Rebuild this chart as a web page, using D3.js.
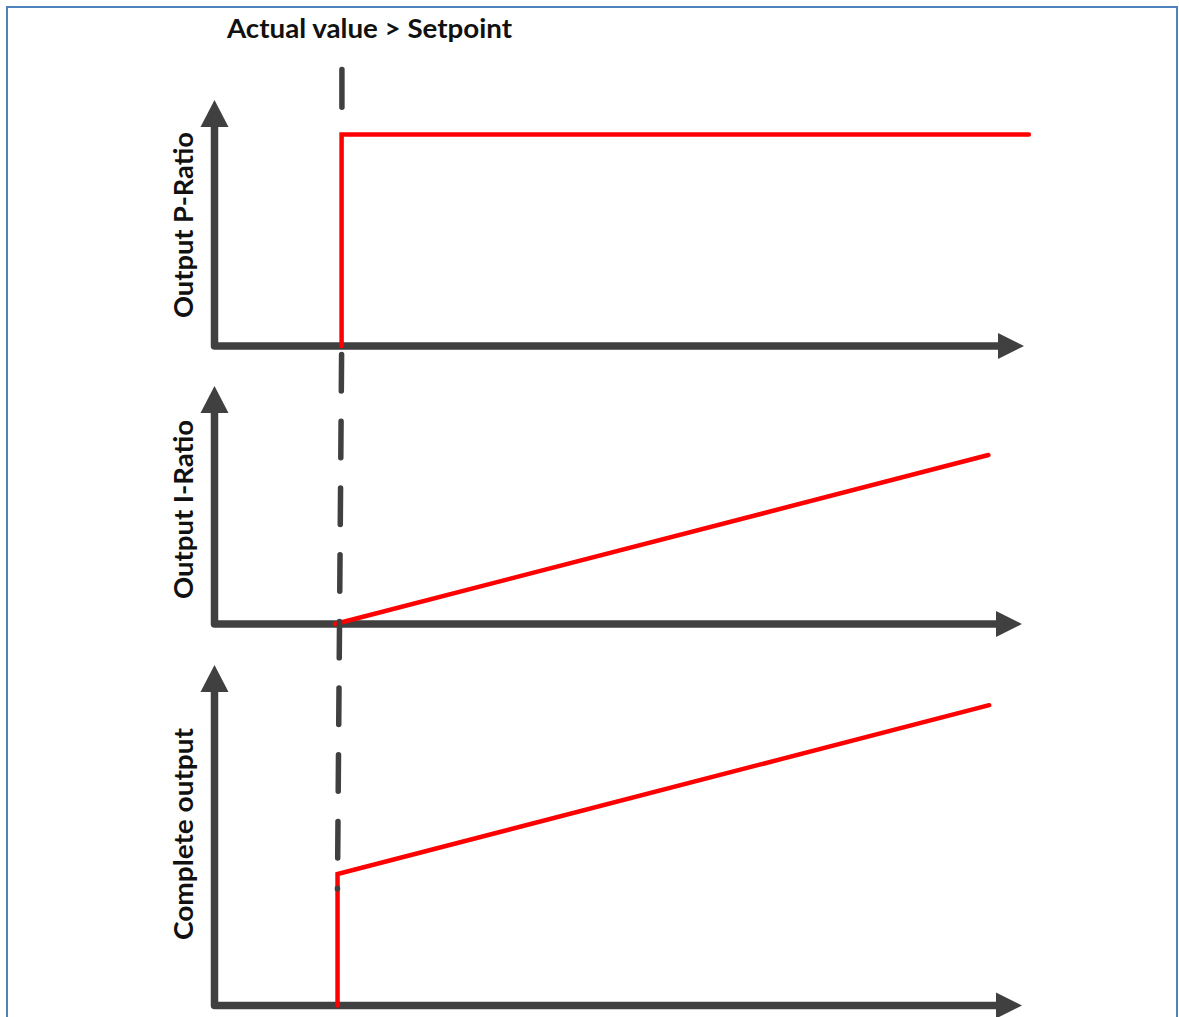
<!DOCTYPE html>
<html>
<head>
<meta charset="utf-8">
<script src="https://cdn.jsdelivr.net/npm/d3@7"></script>
<style>
  html, body { margin: 0; padding: 0; background: #fff; }
  svg { display: block; }
</style>
</head>
<body>
<svg id="chart" width="1179" height="1017"></svg>
<script>
// ---------- data ----------
const title = "Actual value > Setpoint";
const panelLabels = ["Output P-Ratio", "Output I-Ratio", "Complete output"];
const timeDomain = [0, 100];
const valueDomain = [0, 100];
// [time, value] points of each red trace
const pRatio = [[15.7, 0], [15.7, 86], [100.6, 86]];
const iRatio = [[14.9, 0], [95.6, 71]];
const completeOutput = [[15.2, 0], [15.2, 38.6], [95.7, 88.2]];
const traces = [pRatio, iRatio, completeOutput];
// setpoint crossing marker: [panel, time, value]
const markerTopDash = [[0, 15.74, 112.4], [0, 15.74, 97.1]];
const markerDashed = [[1, 15.70, 113.2], [2, 15.19, 34.2]];

// ---------- layout ----------
const svg = d3.select("#chart");
const axisColor = "#404040";
const red = "#ff0000";
const x = d3.scaleLinear().domain(timeDomain).range([214.5, 1024]);
const panelBase = [346, 624, 1005.5];
const panelTip = [100, 386, 665];
const xTipEnd = [1024, 1022, 1022];
const yScales = panelBase.map((b, i) => d3.scaleLinear().domain(valueDomain).range([b, panelTip[i]]));
const labelCenter = [225, 509.5, 834];
const labelLength = [186, 179, 212];

// border
svg.append("rect")
  .attr("x", 7).attr("y", 7).attr("width", 1170).attr("height", 1100)
  .attr("fill", "none").attr("stroke", "#4f81bd").attr("stroke-width", 2);

// title
svg.append("text")
  .attr("x", 227).attr("y", 37.5)
  .attr("font-family", "Lato, 'Open Sans', sans-serif")
  .attr("font-weight", "bold").attr("font-size", 26)
  .attr("textLength", 285).attr("lengthAdjust", "spacingAndGlyphs")
  .attr("fill", "#111")
  .text(title);

const line = d3.line();

panelLabels.forEach((lab, i) => {
  const y = yScales[i];
  const x0 = x(0), y0 = y(0);
  const yArrowLen = 27, yArrowHalf = 14;
  const xArrowLen = 26, xArrowHalf = 13;
  const yTip = y(100);
  const xTip = xTipEnd[i];
  const g = svg.append("g");
  g.append("path")
    .attr("d", line([[x0, yTip + yArrowLen - 1], [x0, y0], [xTip - xArrowLen + 1, y0]]))
    .attr("fill", "none").attr("stroke", axisColor)
    .attr("stroke-width", 7.5).attr("stroke-linejoin", "round").attr("stroke-linecap", "butt");
  g.append("path")
    .attr("d", line([[x0, yTip], [x0 - yArrowHalf, yTip + yArrowLen], [x0 + yArrowHalf, yTip + yArrowLen]]) + "Z")
    .attr("fill", axisColor);
  g.append("path")
    .attr("d", line([[xTip, y0], [xTip - xArrowLen, y0 - xArrowHalf], [xTip - xArrowLen, y0 + xArrowHalf]]) + "Z")
    .attr("fill", axisColor);

  g.append("text")
    .attr("transform", `translate(193,${labelCenter[i]}) rotate(-90)`)
    .attr("text-anchor", "middle")
    .attr("font-family", "Lato, 'Open Sans', sans-serif")
    .attr("font-weight", "bold").attr("font-size", 26)
    .attr("textLength", labelLength[i]).attr("lengthAdjust", "spacingAndGlyphs")
    .attr("fill", "#111")
    .text(lab);
});

// red traces
traces.forEach((tr, i) => {
  const y = yScales[i];
  svg.append("path")
    .attr("d", line(tr.map(d => [x(d[0]), y(d[1])])))
    .attr("fill", "none").attr("stroke", red)
    .attr("stroke-width", 4.5).attr("stroke-linejoin", "miter").attr("stroke-linecap", "round");
});

// setpoint marker
const pt = d => [x(d[1]), yScales[d[0]](d[2])];
svg.append("path")
  .attr("d", line(markerTopDash.map(pt)))
  .attr("fill", "none").attr("stroke", axisColor)
  .attr("stroke-width", 5.5).attr("stroke-linecap", "round");
svg.append("path")
  .attr("d", line(markerDashed.map(pt)))
  .attr("fill", "none").attr("stroke", axisColor)
  .attr("stroke-width", 5.5).attr("stroke-linecap", "round")
  .attr("stroke-dasharray", "36.5,30.2");
</script>
</body>
</html>
